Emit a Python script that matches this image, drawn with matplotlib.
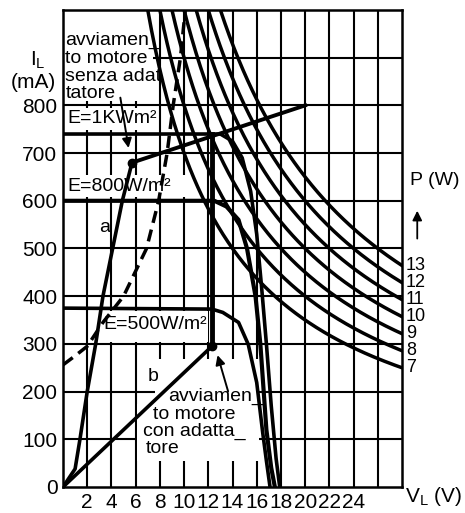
import numpy as np
import matplotlib.pyplot as plt
from matplotlib.patches import Rectangle

plt.rcParams['font.family'] = ['Liberation Sans', 'DejaVu Sans']
plt.rcParams['mathtext.default'] = 'regular'

# curve a: motor without adapter, then its line to the right
a_v = [0, 1.0, 1.4, 2.0, 2.7, 3.3, 4.1, 4.9, 5.7]
a_i = [0, 38, 100, 200, 300, 400, 500, 600, 680]
load_v = [5.7, 20]
load_i = [680, 800]

# curve b: motor with adapter
b_v = [0, 12.3]
b_i = [0, 295]

# dashed curve
dash_v = [0, 1, 2, 3.3, 5.0, 6.9, 7.9, 8.6, 9.1, 9.7, 10.1]
dash_i = [256, 275, 295, 345, 400, 500, 600, 700, 800, 900, 1000]

# panel curves for E = 1000, 800, 500 W/m2
e1000_v = [0, 13.0, 14.0, 14.8, 15.5, 16.0, 16.4, 16.8, 17.2, 17.6, 17.9]
e1000_i = [740, 740, 725, 690, 620, 530, 420, 300, 170, 60, 0]
e800_v = [0, 12.5, 13.5, 14.5, 15.2, 15.9, 16.3, 16.8, 17.2, 17.5]
e800_i = [600, 600, 588, 560, 500, 400, 300, 120, 40, 0]
e500_v = [0, 12.3, 13.2, 14.5, 15.3, 16.0, 16.5, 16.8, 17.1]
e500_i = [375, 373, 366, 345, 299, 219, 113, 55, 0]

# constant power curves (W)
powers = [7, 8, 9, 10, 11, 12, 13]

x_ticks = [2, 4, 6, 8, 10, 12, 14, 16, 18, 20, 22, 24]
y_ticks = [0, 100, 200, 300, 400, 500, 600, 700, 800]

fig = plt.figure(figsize=(4.65, 5.13), dpi=100)
ax = fig.add_axes([63/465, 26/513, 339/465, 477/513])
ax.set_xlim(0, 28)
ax.set_ylim(0, 1000)

# grid
for v in range(2, 28, 2):
    ax.axvline(v, color='black', lw=1.5, zorder=1)
for i in range(100, 1000, 100):
    ax.axhline(i, color='black', lw=1.5, zorder=1)

# blanked areas behind the labels
blank = [(0, 810, 7.4, 190), (0, 748, 7.0, 47), (0, 607, 10.8, 48),
         (3.4, 305, 8.6, 63), (7.6, 55, 8.6, 213), (6.15, 55, 1.45, 120)]
for x0, y0, w, h in blank:
    ax.add_patch(Rectangle((x0, y0), w, h, facecolor='white', edgecolor='none', zorder=1.5))

# hyperbolas
for p in powers:
    vv = np.linspace(p, 28, 200)
    ax.plot(vv, 1000 * p / vv, color='black', lw=2.5, zorder=3)

ax.plot(e1000_v, e1000_i, color='black', lw=2.6, zorder=3)
ax.plot(e800_v, e800_i, color='black', lw=3.0, zorder=3)
ax.plot(e500_v, e500_i, color='black', lw=2.6, zorder=3)
ax.plot(a_v, a_i, color='black', lw=2.6, zorder=3)
ax.plot(load_v, load_i, color='black', lw=2.8, zorder=3)
ax.plot(b_v, b_i, color='black', lw=2.6, zorder=3)
ax.plot([12.3, 12.3], [295, 740], color='black', lw=3.5, zorder=3)
ax.plot(dash_v, dash_i, color='black', lw=2.5, dashes=(3.5, 2), zorder=3)
ax.plot([5.7], [680], 'o', color='black', ms=6, zorder=3)
ax.plot([12.3], [295], 'o', color='black', ms=6, zorder=3)

for s in ax.spines.values():
    s.set_linewidth(1.8)
    s.set_zorder(4)

ax.set_xticks(x_ticks)
ax.set_xticklabels([str(t) for t in x_ticks], fontsize=15)
ax.set_yticks(y_ticks)
ax.set_yticklabels([str(t) for t in y_ticks], fontsize=15)
ax.tick_params(length=0, pad=4)

# labels in the plot
tk = dict(fontsize=14, va='center', zorder=5)
for y, s in zip([937, 899, 861, 825], ['avviamen_', 'to motore', 'senza adat', 'tatore']):
    ax.text(0.2, y, s, **tk)
ax.text(0.4, 773, 'E=1KWm²', **tk)
ax.text(0.4, 629, 'E=800W/m²', **tk)
ax.text(3.3, 341, 'E=500W/m²', **tk)
ax.text(3.0, 545, 'a', **tk)
ax.text(7.0, 232, 'b', **tk)
for x, y, s in [(8.7, 190, 'avviamen_'), (7.4, 152, 'to motore'),
                (6.6, 116, 'con adatta_'), (6.8, 80, 'tore')]:
    ax.text(x, y, s, **tk)

arrow = dict(arrowstyle='-|>', lw=1.4, mutation_scale=14, color='black')
ax.annotate('', xy=(5.45, 705), xytext=(4.7, 822), arrowprops=arrow, zorder=5)
ax.annotate('', xy=(12.7, 282), xytext=(13.7, 195), arrowprops=arrow, zorder=5)

# power labels at the right edge
for p in powers:
    ax.text(1.012, 1000 * p / 28, str(p), transform=ax.get_yaxis_transform(),
            fontsize=13, va='center', ha='left')
ax.text(1.025, 642, 'P (W)', transform=ax.get_yaxis_transform(), fontsize=14, va='center')
ax.annotate('', xy=(1.045, 585), xytext=(1.045, 515), xycoords=ax.get_yaxis_transform(),
            arrowprops=dict(arrowstyle='-|>', lw=1.3, mutation_scale=14, color='black'),
            annotation_clip=False)

fig.text(38/465, 1 - 60/513, 'I$_L$', fontsize=15, ha='center', va='center')
fig.text(33/465, 1 - 82/513, '(mA)', fontsize=15, ha='center', va='center')
fig.text(405/465, 1 - 497/513, 'V$_L$ (V)', fontsize=15, ha='left', va='center')

fig.savefig('out.png', dpi=100)
